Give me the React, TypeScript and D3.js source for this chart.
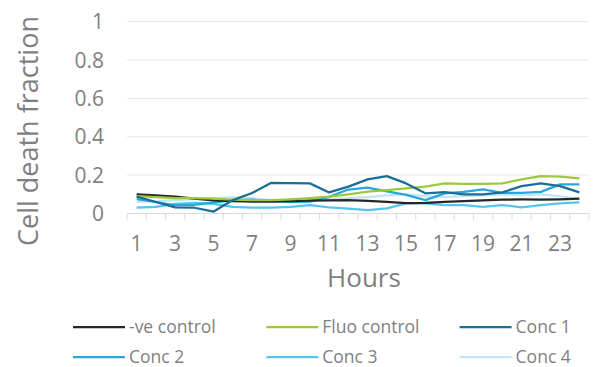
import React from "react";
import * as d3 from "d3";

const hours = d3.range(1, 25).map(String);
const xTickLabels = ["1", "3", "5", "7", "9", "11", "13", "15", "17", "19", "21", "23"];
const yTicks = [0, 0.2, 0.4, 0.6, 0.8, 1];

const negControl = [0.1, 0.095, 0.088, 0.078, 0.068, 0.064, 0.062, 0.062, 0.064, 0.067, 0.068, 0.07, 0.066, 0.06, 0.054, 0.055, 0.06, 0.064, 0.069, 0.072, 0.073, 0.072, 0.074, 0.077];
const fluoControl = [0.09, 0.086, 0.08, 0.08, 0.078, 0.072, 0.07, 0.07, 0.074, 0.08, 0.088, 0.1, 0.114, 0.122, 0.131, 0.14, 0.157, 0.155, 0.155, 0.157, 0.178, 0.195, 0.192, 0.183];
const conc1 = [0.088, 0.06, 0.032, 0.03, 0.01, 0.07, 0.107, 0.16, 0.158, 0.157, 0.11, 0.14, 0.178, 0.195, 0.157, 0.105, 0.112, 0.1, 0.1, 0.11, 0.143, 0.157, 0.143, 0.11];
const conc2 = [0.075, 0.06, 0.042, 0.045, 0.058, 0.068, 0.072, 0.065, 0.06, 0.062, 0.087, 0.125, 0.135, 0.115, 0.097, 0.07, 0.105, 0.113, 0.126, 0.108, 0.108, 0.113, 0.152, 0.152];
const conc3 = [0.03, 0.035, 0.05, 0.055, 0.05, 0.035, 0.03, 0.03, 0.035, 0.044, 0.032, 0.025, 0.018, 0.027, 0.053, 0.053, 0.044, 0.044, 0.035, 0.044, 0.032, 0.044, 0.053, 0.058];
const conc4 = [0.06, 0.065, 0.07, 0.075, 0.08, 0.085, 0.08, 0.07, 0.065, 0.07, 0.075, 0.08, 0.085, 0.095, 0.1, 0.09, 0.085, 0.09, 0.095, 0.1, 0.095, 0.1, 0.09, 0.075];

const seriesNames = ["-ve control", "Fluo control", "Conc 1", "Conc 2", "Conc 3", "Conc 4"];
const seriesValues = [negControl, fluoControl, conc1, conc2, conc3, conc4];
const seriesColors = ["#262626", "#9dc73c", "#1b6e96", "#28a6de", "#57c4ee", "#c3e5f6"];

const W = 603;
const H = 367;
const left = 127;
const right = 589;
const top = 21.7;
const bottom = 213.5;
const FONT = "'Open Sans', 'Noto Sans', sans-serif";
const TEXT = "#7f7f7f";

export default function App() {
  const x = d3.scaleBand<string>().domain(hours).range([left, right]);
  const y = d3.scaleLinear().domain([0, 1]).range([bottom, top]);
  const line = d3
    .line<number>()
    .x((_, i) => (x(hours[i]) as number) + x.bandwidth() / 2)
    .y((d) => y(d));

  const drawOrder = [5, 4, 3, 0, 1, 2];

  return (
    <svg width={W} height={H} style={{ position: "absolute", left: 0, top: 0 }}>
      <rect width={W} height={H} fill="#ffffff" />
      {yTicks.filter((t) => t > 0).map((t) => (
        <line key={t} x1={left} x2={right} y1={y(t)} y2={y(t)} stroke="#e6e6e6" strokeWidth={1} />
      ))}
      <line x1={left} x2={right} y1={bottom} y2={bottom} stroke="#d9d9d9" strokeWidth={1} />
      {hours.map((h) => (
        <line key={h} x1={x(h) as number} x2={x(h) as number} y1={bottom} y2={bottom + 6} stroke="#d9d9d9" strokeWidth={1} />
      ))}
      <line x1={right} x2={right} y1={bottom} y2={bottom + 6} stroke="#d9d9d9" strokeWidth={1} />
      {yTicks.map((t) => (
        <text key={t} x={104} y={y(t)} dy="0.36em" textAnchor="end" fontFamily={FONT} fontSize={21} fill={TEXT}>
          {String(t)}
        </text>
      ))}
      {xTickLabels.map((l) => (
        <text key={l} x={(x(l) as number) + x.bandwidth() / 2} y={251} textAnchor="middle" fontFamily={FONT} fontSize={21} fill={TEXT}>
          {l}
        </text>
      ))}
      <text x={364} y={287} textAnchor="middle" fontFamily={FONT} fontSize={26} fill={TEXT}>
        Hours
      </text>
      <text transform={`translate(38,131) rotate(-90)`} textAnchor="middle" fontFamily={FONT} fontSize={27} fill={TEXT}>
        Cell death fraction
      </text>
      {drawOrder.map((i) => (
        <path key={seriesNames[i]} d={line(seriesValues[i]) as string} fill="none" stroke={seriesColors[i]} strokeWidth={2.25} strokeLinejoin="round" />
      ))}
      {seriesNames.map((name, i) => {
        const col = i % 3;
        const row = Math.floor(i / 3);
        const lx = 73 + col * 193.3;
        const ly = 327 + row * 30;
        return (
          <g key={name}>
            <line x1={lx} x2={lx + 52} y1={ly} y2={ly} stroke={seriesColors[i]} strokeWidth={2.25} />
            <text x={lx + 56} y={ly} dy="0.36em" fontFamily={FONT} fontSize={17.5} fill={TEXT}>
              {name}
            </text>
          </g>
        );
      })}
    </svg>
  );
}
